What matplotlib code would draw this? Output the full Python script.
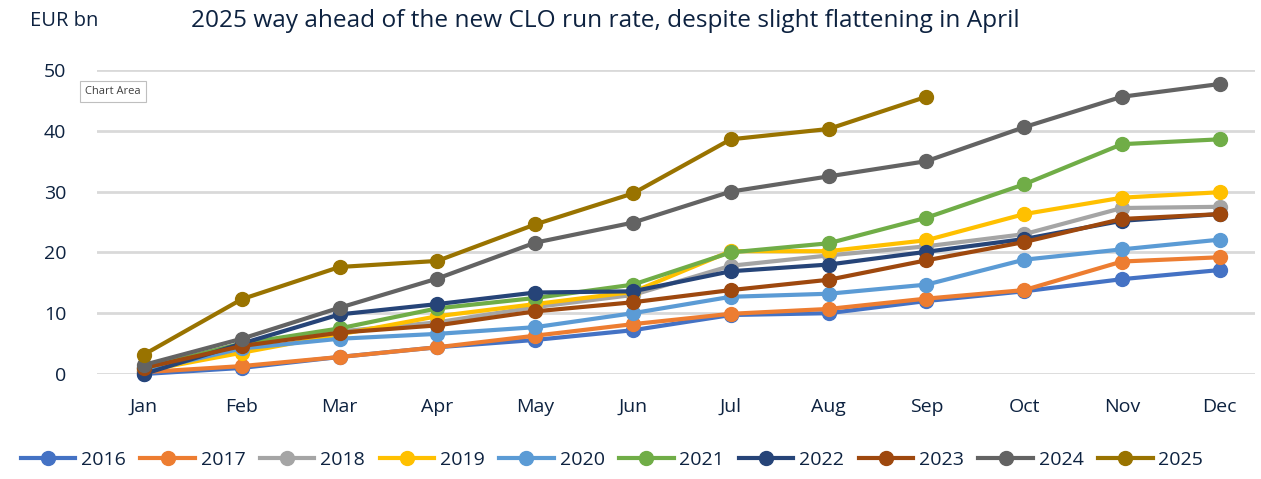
import numpy as np
import matplotlib.pyplot as plt

# 数据
months = ['Jan', 'Feb', 'Mar', 'Apr', 'May', 'Jun', 'Jul', 'Aug', 'Sep', 'Oct', 'Nov', 'Dec']
years = ['2016', '2017', '2018', '2019', '2020', '2021', '2022', '2023', '2024', '2025']
v2016 = [0.0, 1.0, 2.8, 4.4, 5.6, 7.2, 9.7, 10.0, 12.0, 13.6, 15.6, 17.1]
v2017 = [0.3, 1.3, 2.8, 4.4, 6.3, 8.2, 9.9, 10.7, 12.4, 13.8, 18.5, 19.2]
v2018 = [1.0, 5.0, 7.0, 8.5, 11.0, 13.0, 17.8, 19.5, 21.0, 23.0, 27.3, 27.5]
v2019 = [0.5, 3.5, 6.5, 9.5, 11.5, 13.5, 20.2, 20.2, 22.0, 26.3, 29.0, 29.9]
v2020 = [0.5, 4.2, 5.8, 6.6, 7.7, 10.0, 12.7, 13.2, 14.7, 18.8, 20.5, 22.1]
v2021 = [1.0, 5.0, 7.5, 10.8, 12.5, 14.7, 20.0, 21.5, 25.7, 31.2, 37.8, 38.6]
v2022 = [0.0, 5.0, 9.8, 11.5, 13.4, 13.6, 16.9, 18.0, 20.1, 22.2, 25.2, 26.3]
v2023 = [1.0, 4.6, 6.8, 8.0, 10.3, 11.8, 13.8, 15.5, 18.7, 21.7, 25.5, 26.3]
v2024 = [1.5, 5.8, 10.9, 15.7, 21.6, 24.9, 30.0, 32.5, 35.0, 40.6, 45.6, 47.7]
v2025 = [3.2, 12.3, 17.6, 18.6, 24.6, 29.7, 38.6, 40.3, 45.6]
series = [v2016, v2017, v2018, v2019, v2020, v2021, v2022, v2023, v2024, v2025]
colors = ['#4472C4', '#ED7D31', '#A5A5A5', '#FFC000', '#5B9BD5',
          '#70AD47', '#264478', '#9E480E', '#636363', '#997300']

txt = '#0D2240'
plt.rcParams['font.family'] = ['Open Sans', 'DejaVu Sans']

fig = plt.figure(figsize=(12.61, 4.79), dpi=100)
ax = fig.add_axes([97/1261, 1-374/479, (1255-97)/1261, (374-70)/479])

for name, vals, c in zip(years, series, colors):
    x = np.arange(len(vals))
    ax.plot(x, vals, color=c, lw=3, marker='o', ms=10, label=name, clip_on=False, zorder=3)

ax.set_xlim(-0.48, 11.36)
ax.set_ylim(0, 50)
ax.set_xticks(np.arange(12))
ax.set_xticklabels(months)
ax.set_yticks(np.arange(0, 51, 10))
ax.grid(axis='y', color='#D9D9D9', lw=2)
ax.set_axisbelow(True)
for s in ax.spines.values():
    s.set_visible(False)
ax.tick_params(length=0, labelsize=14, labelcolor=txt)
ax.tick_params(axis='x', pad=17)
ax.tick_params(axis='y', pad=22)

fig.text(30/1261, 1-21/479, 'EUR bn', fontsize=14.5, color=txt, va='center')
fig.text(191/1261, 1-21/479, '2025 way ahead of the new CLO run rate, despite slight flattening in April',
         fontsize=17.6, color=txt, va='center')
# 提示框
fig.text(85/1261, 1-91/479, 'Chart Area', fontsize=8, color='#404040', va='center',
         bbox=dict(boxstyle='square,pad=0.45', fc='white', ec='#BFBFBF', lw=0.8))

fig.legend(loc='center', bbox_to_anchor=(612/1261, 1-460/479), ncol=10, frameon=False,
           fontsize=14, labelcolor=txt, handlelength=2.8, handletextpad=0.3, columnspacing=0.75)

plt.savefig('out.png', dpi=100)
